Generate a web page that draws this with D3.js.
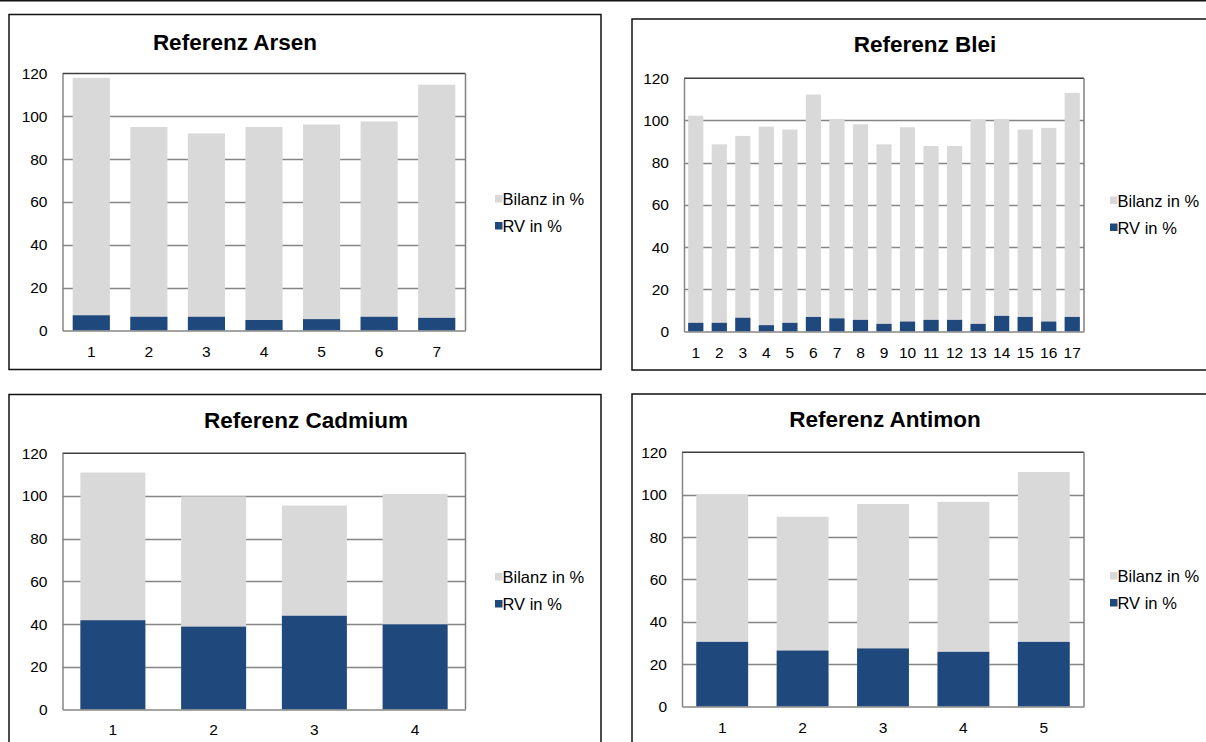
<!DOCTYPE html>
<html>
<head>
<meta charset="utf-8">
<script src="https://cdn.jsdelivr.net/npm/d3@7"></script>
<style>
  html, body { margin: 0; padding: 0; background: #fff; }
  svg { display: block; }
</style>
</head>
<body>
<svg id="chart" width="1206" height="742"></svg>
<script>
// Recovery data per reference element: balance (Bilanz) and recovery value (RV), in %
const yTicks = [0, 20, 40, 60, 80, 100, 120];
const seriesNames = ["Bilanz in %", "RV in %"];

const arsenCats = ["1", "2", "3", "4", "5", "6", "7"];
const arsenBilanz = [118, 95, 92, 95, 96.2, 97.6, 114.8];
const arsenRV = [7.1, 6.4, 6.4, 4.9, 5.3, 6.4, 5.9];

const bleiCats = ["1", "2", "3", "4", "5", "6", "7", "8", "9", "10", "11", "12", "13", "14", "15", "16", "17"];
const bleiBilanz = [102.3, 88.7, 92.7, 97.1, 95.7, 112.3, 100.6, 98.2, 88.7, 96.8, 87.9, 87.9, 100.3, 100.6, 95.7, 96.5, 113.1];
const bleiRV = [4.1, 4.1, 6.5, 3.0, 4.1, 6.9, 6.2, 5.5, 3.6, 4.7, 5.5, 5.5, 3.6, 7.4, 6.9, 4.7, 6.9];

const cadmiumCats = ["1", "2", "3", "4"];
const cadmiumBilanz = [111, 99.8, 95.5, 101];
const cadmiumRV = [41.8, 38.8, 43.9, 39.9];

const antimonCats = ["1", "2", "3", "4", "5"];
const antimonBilanz = [99.9, 89.6, 95.6, 96.6, 110.7];
const antimonRV = [30.5, 26.4, 27.4, 25.8, 30.5];

const COLOR_BILANZ = "#d9d9d9";
const COLOR_RV = "#1f497d";
const FONT = "'Liberation Sans', Arial, sans-serif";

const svg = d3.select("#chart");

// thin rule along the top of the page
svg.append("line")
  .attr("x1", 0).attr("x2", 1206).attr("y1", 0.75).attr("y2", 0.75)
  .attr("stroke", "#111").attr("stroke-width", 1.5);

const panels = [
  { title: "Referenz Arsen", cats: arsenCats, bilanz: arsenBilanz, rv: arsenRV,
    box: [9, 14.5, 592, 355], plot: [62.5, 73.5, 465.5, 330.5],
    titleX: 235, titleY: 42, legendX: 495, legendY: 199, xLabelY: 351 },
  { title: "Referenz Blei", cats: bleiCats, bilanz: bleiBilanz, rv: bleiRV,
    box: [632, 19, 600, 351], plot: [684, 78.3, 1084, 331.5],
    titleX: 925, titleY: 44, legendX: 1110, legendY: 200.5, xLabelY: 352 },
  { title: "Referenz Cadmium", cats: cadmiumCats, bilanz: cadmiumBilanz, rv: cadmiumRV,
    box: [9, 394.5, 592, 400], plot: [62.5, 453.3, 465.5, 709.5],
    titleX: 306, titleY: 420, legendX: 495, legendY: 577, xLabelY: 729 },
  { title: "Referenz Antimon", cats: antimonCats, bilanz: antimonBilanz, rv: antimonRV,
    box: [632, 394, 600, 400], plot: [682, 452.3, 1084, 706.5],
    titleX: 885, titleY: 419, legendX: 1110, legendY: 576, xLabelY: 727 }
];

panels.forEach(drawPanel);

function drawPanel(p) {
  const g = svg.append("g");
  const [bx, by, bw, bh] = p.box;
  const [x0, y0, x1, y1] = p.plot;

  // chart frame
  g.append("rect")
    .attr("x", bx).attr("y", by).attr("width", bw).attr("height", bh)
    .attr("fill", "#fff").attr("stroke", "#111").attr("stroke-width", 1.5);

  // title
  g.append("text")
    .attr("x", p.titleX).attr("y", p.titleY)
    .attr("text-anchor", "middle").attr("dominant-baseline", "central")
    .attr("font-family", FONT).attr("font-weight", "bold").attr("font-size", 22.5)
    .attr("fill", "#000")
    .text(p.title);

  const x = d3.scaleBand().domain(p.cats).range([x0, x1])
    .paddingInner(0.355).paddingOuter(0.1775);
  const y = d3.scaleLinear().domain([0, 120]).range([y1, y0]);

  // horizontal gridlines
  g.append("g").selectAll("line")
    .data(yTicks.filter(t => t > 0 && t < 120))
    .join("line")
    .attr("x1", x0).attr("x2", x1)
    .attr("y1", d => Math.round(y(d)) + 0.5).attr("y2", d => Math.round(y(d)) + 0.5)
    .attr("stroke", "#858585").attr("stroke-width", 1.3);

  // plot area outline: dark top, grey right
  g.append("line").attr("x1", x0).attr("x2", x1).attr("y1", y0).attr("y2", y0)
    .attr("stroke", "#3f3f3f").attr("stroke-width", 1.5);
  g.append("line").attr("x1", x1).attr("x2", x1).attr("y1", y0).attr("y2", y1)
    .attr("stroke", "#7f7f7f").attr("stroke-width", 1.5);

  const rows = p.cats.map((c, i) => ({ cat: c, bilanz: p.bilanz[i], rv: p.rv[i] }));

  // balance bars, with the recovery value drawn over them from zero
  g.append("g").selectAll("rect")
    .data(rows)
    .join("rect")
    .attr("x", d => x(d.cat)).attr("width", x.bandwidth())
    .attr("y", d => y(d.bilanz)).attr("height", d => y(0) - y(d.bilanz))
    .attr("fill", COLOR_BILANZ);

  g.append("g").selectAll("rect")
    .data(rows)
    .join("rect")
    .attr("x", d => x(d.cat)).attr("width", x.bandwidth())
    .attr("y", d => y(d.rv)).attr("height", d => y(0) - y(d.rv))
    .attr("fill", COLOR_RV);

  // y axis
  const yAxis = g.append("g")
    .attr("transform", `translate(${x0},0)`)
    .call(d3.axisLeft(y).tickValues(yTicks).tickSize(0).tickPadding(15));
  yAxis.select(".domain").attr("stroke", "#868686").attr("stroke-width", 1.5);
  yAxis.selectAll("text")
    .attr("font-family", FONT).attr("font-size", 15.5).attr("fill", "#000");

  // x axis
  const xAxis = g.append("g")
    .attr("transform", `translate(0,${y1})`)
    .call(d3.axisBottom(x).tickSize(0).tickPadding(0));
  xAxis.select(".domain").attr("stroke", "#868686").attr("stroke-width", 1.5);
  xAxis.selectAll("text")
    .attr("y", p.xLabelY - y1).attr("dy", null)
    .attr("dominant-baseline", "central")
    .attr("font-family", FONT).attr("font-size", 15.5).attr("fill", "#000");

  // legend
  const legend = g.append("g").selectAll("g")
    .data(seriesNames)
    .join("g")
    .attr("transform", (d, i) => `translate(${p.legendX},${p.legendY + i * 27})`);
  legend.append("rect")
    .attr("x", 0).attr("y", -4).attr("width", 7.5).attr("height", 7.5)
    .attr("fill", (d, i) => i === 0 ? COLOR_BILANZ : COLOR_RV);
  legend.append("text")
    .attr("x", 7.5).attr("y", 0)
    .attr("dominant-baseline", "central")
    .attr("font-family", FONT).attr("font-size", 16.5).attr("fill", "#000")
    .text(d => d);
}
</script>
</body>
</html>
